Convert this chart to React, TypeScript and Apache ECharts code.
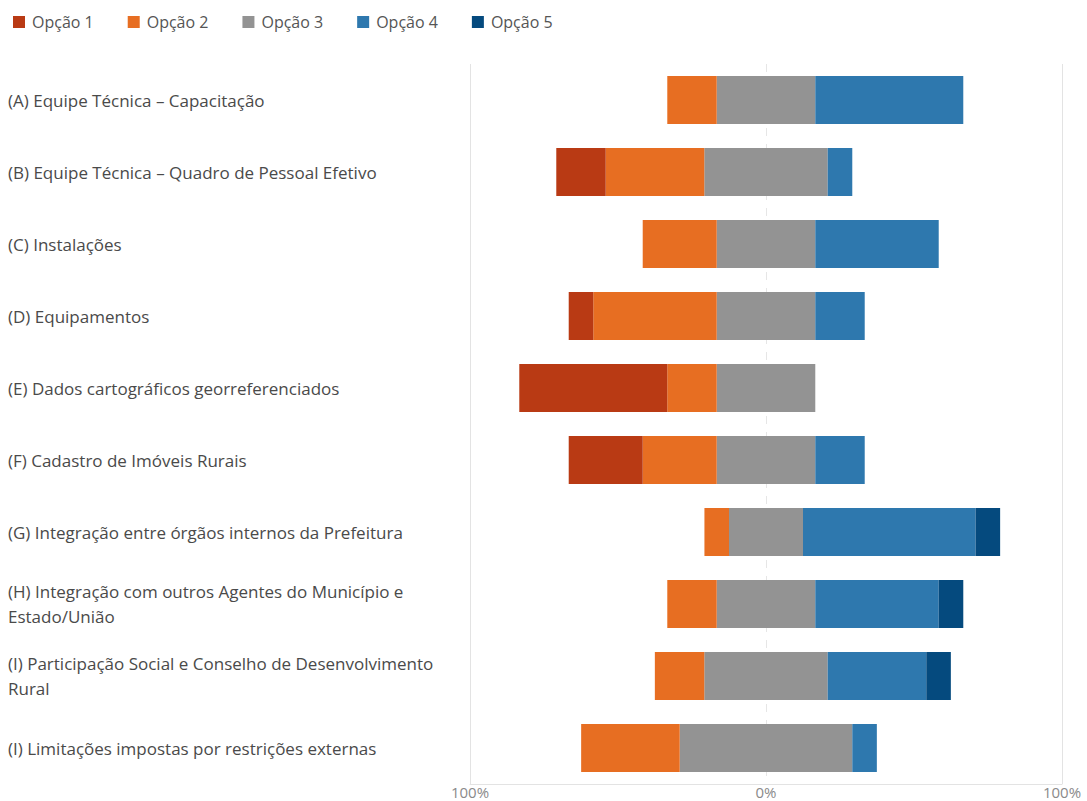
import React, { useEffect, useRef } from "react";
import * as echarts from "echarts";

const categories = [
  "(A) Equipe Técnica – Capacitação",
  "(B) Equipe Técnica – Quadro de Pessoal Efetivo",
  "(C) Instalações",
  "(D) Equipamentos",
  "(E) Dados cartográficos georreferenciados",
  "(F) Cadastro de Imóveis Rurais",
  "(G) Integração entre órgãos internos da Prefeitura",
  "(H) Integração com outros Agentes do Município e\nEstado/União",
  "(I) Participação Social e Conselho de Desenvolvimento\nRural",
  "(I) Limitações impostas por restrições externas",
];

const seriesNames = ["Opção 1", "Opção 2", "Opção 3", "Opção 4", "Opção 5"];
const colors = ["#b93a14", "#e76e22", "#939393", "#2e78ae", "#054a7e"];

const opcao1 = [0, 16.7, 0, 8.3, 50, 25, 0, 0, 0, 0];
const opcao2 = [16.7, 33.3, 25, 41.7, 16.7, 25, 8.3, 16.7, 16.7, 33.3];
const opcao3 = [33.3, 41.7, 33.3, 33.3, 33.3, 33.3, 25, 33.3, 41.7, 58.3];
const opcao4 = [50, 8.3, 41.7, 16.7, 0, 16.7, 58.3, 41.7, 33.3, 8.3];
const opcao5 = [0, 0, 0, 0, 0, 0, 8.3, 8.3, 8.3, 0];

const axisTicks = [-100, 0, 100];

export default function App() {
  const ref = useRef<HTMLDivElement>(null);
  useEffect(() => {
    if (!ref.current) return;
    const chart = echarts.init(ref.current, undefined, { renderer: "svg" });
    const font = "Open Sans";
    const bar = (name: string, data: number[], color: string) => ({
      name,
      type: "bar",
      stack: "total",
      barWidth: 48,
      z: 3,
      data,
      itemStyle: { color },
      emphasis: { disabled: true },
    });
    chart.setOption({
      animation: false,
      textStyle: { fontFamily: font },
      legend: {
        data: seriesNames,
        left: 8,
        top: 9,
        icon: "rect",
        itemWidth: 12,
        itemHeight: 12,
        itemGap: 34,
        selectedMode: false,
        textStyle: { fontSize: 16, color: "#555555", fontFamily: font, padding: [0, 0, 0, 2] },
      },
      grid: { left: 470, right: 25, top: 64, bottom: 17, containLabel: false },
      xAxis: {
        type: "value",
        min: axisTicks[0],
        max: axisTicks[2],
        interval: 100,
        axisLine: { show: true, lineStyle: { color: "#e3e3e3" } },
        axisTick: { show: false },
        splitLine: { show: false },
        axisLabel: {
          color: "#8a8a8a",
          fontSize: 15,
          lineHeight: 14,
          margin: 1,
          fontFamily: font,
          formatter: (v: number) => Math.abs(v) + "%",
        },
      },
      yAxis: {
        type: "category",
        data: categories,
        inverse: true,
        axisLine: { show: false },
        axisTick: { show: false },
        axisLabel: {
          align: "left",
          margin: 462,
          color: "#4a4a4a",
          fontSize: 17,
          lineHeight: 25,
          fontFamily: font,
        },
      },
      series: [
        {
          ...bar("Opção 3", opcao3.map((v) => -v / 2), colors[2]),
          markLine: {
            silent: true,
            symbol: "none",
            z: 1,
            label: { show: false },
            data: [
              { xAxis: -100, lineStyle: { color: "#e3e3e3", type: "solid", width: 1 } },
              { xAxis: 0, lineStyle: { color: "#e6e6e6", type: [8, 8], width: 1 } },
              { xAxis: 100, lineStyle: { color: "#e3e3e3", type: "solid", width: 1 } },
            ],
          },
        },
        bar("Opção 2", opcao2.map((v) => -v), colors[1]),
        bar("Opção 1", opcao1.map((v) => -v), colors[0]),
        bar("Opção 3", opcao3.map((v) => v / 2), colors[2]),
        bar("Opção 4", opcao4, colors[3]),
        bar("Opção 5", opcao5, colors[4]),
      ],
    });
    return () => chart.dispose();
  }, []);
  return (
    <div
      ref={ref}
      style={{ position: "fixed", left: 0, top: 0, width: 1087, height: 801, background: "#fff" }}
    />
  );
}
